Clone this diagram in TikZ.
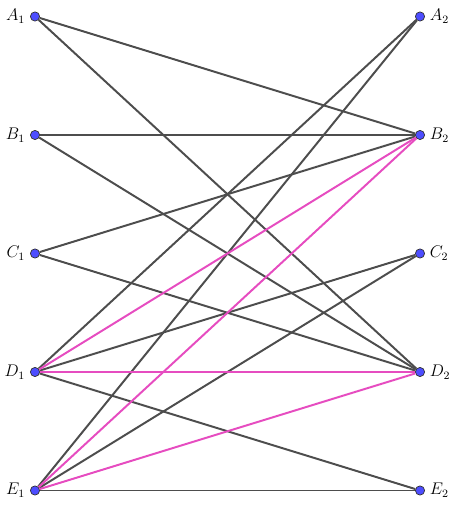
\documentclass[tikz,border=0pt]{standalone}
\definecolor{dotblue}{RGB}{77,77,255}
\definecolor{edgegray}{RGB}{77,77,77}
\definecolor{edgepink}{RGB}{230,76,192}
\tikzset{
  vtx/.style={circle,draw=black!80,fill=dotblue,inner sep=0pt,minimum size=2.3mm,line width=0.5pt,label distance=0.5mm},
  edge/.style={draw=edgegray,line width=1.4pt},
  pedge/.style={draw=edgepink,line width=1.4pt}
}
\begin{document}
\begin{tikzpicture}[x=9.625cm,y=2.9625cm,every label/.style={font=\large}]
  \useasboundingbox (-0.875cm,-0.4125cm) rectangle (10.525cm,12.2625cm);

  \node[vtx,label=left:$A_1$] (a1) at (0, 4) {};
  \node[vtx,label=left:$B_1$] (b1) at (0, 3) {};
  \node[vtx,label=left:$C_1$] (c1) at (0, 2) {};
  \node[vtx,label=left:$D_1$] (d1) at (0, 1) {};
  \node[vtx,label=left:$E_1$] (e1) at (0, 0) {};

  \node[vtx,label=right:$A_2$] (a2) at (1, 4) {};
  \node[vtx,label=right:$B_2$] (b2) at (1, 3) {};
  \node[vtx,label=right:$C_2$] (c2) at (1, 2) {};
  \node[vtx,label=right:$D_2$] (d2) at (1, 1) {};
  \node[vtx,label=right:$E_2$] (e2) at (1, 0) {};

  \draw[edge] (a1) -- (b2);
  \draw[edge] (a1) -- (d2);
  \draw[edge] (b1) -- (b2);
  \draw[edge] (b1) -- (d2);
  \draw[edge] (c1) -- (b2);
  \draw[edge] (c1) -- (d2);
  \draw[edge] (d1) -- (a2);
  \draw[edge] (d1) -- (c2);
  \draw[edge] (d1) -- (e2);
  \draw[edge] (e1) -- (a2);
  \draw[edge] (e1) -- (c2);
  \draw[edge] (e1) -- (e2);

  \draw[pedge] (d1) -- (b2);
  \draw[pedge] (d1) -- (d2);
  \draw[pedge] (e1) -- (b2);
  \draw[pedge] (e1) -- (d2);
\end{tikzpicture}
\end{document}
